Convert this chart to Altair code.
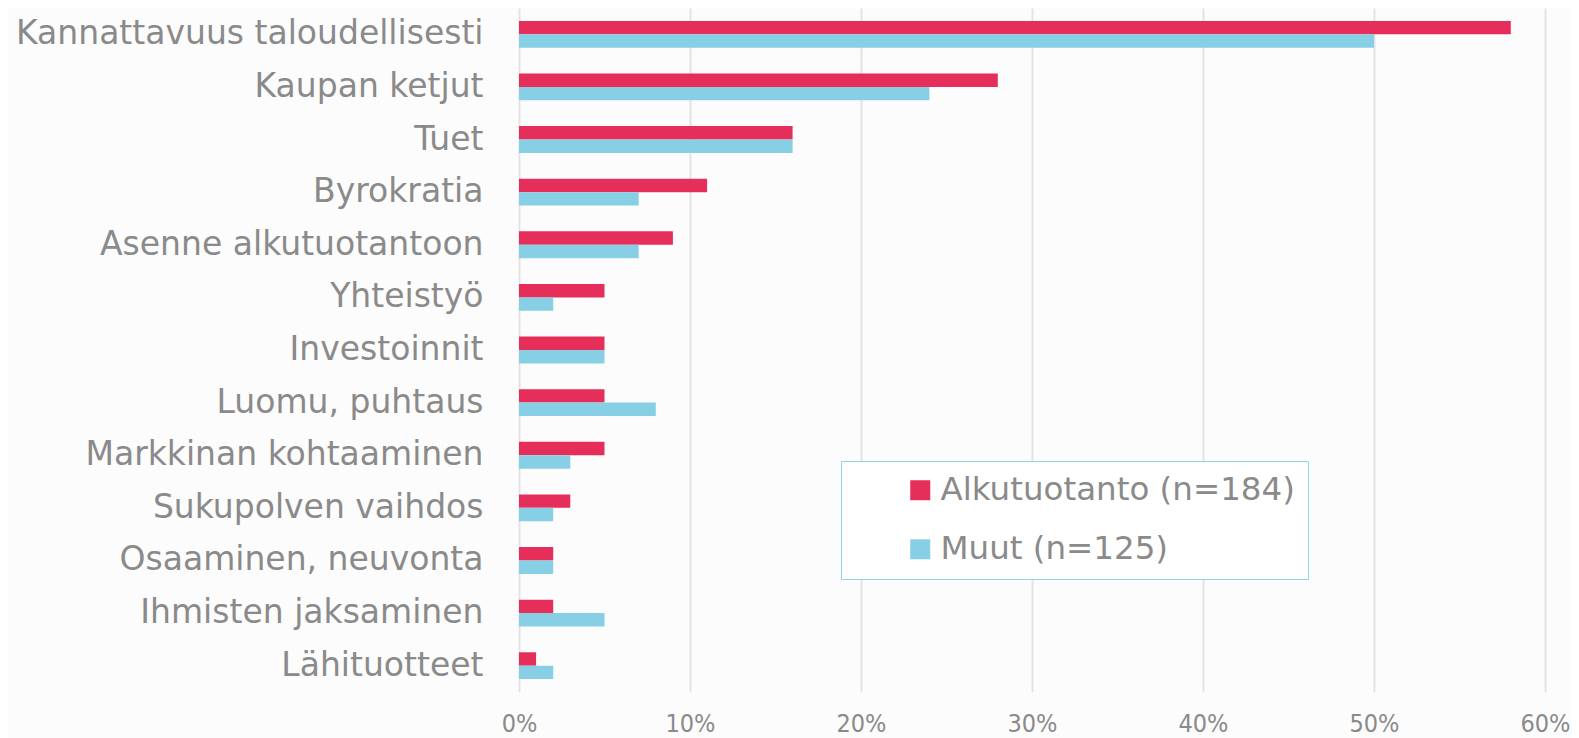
import altair as alt
import pandas as pd

categories = [
    "Kannattavuus taloudellisesti", "Kaupan ketjut", "Tuet", "Byrokratia",
    "Asenne alkutuotantoon", "Yhteistyö", "Investoinnit", "Luomu, puhtaus",
    "Markkinan kohtaaminen", "Sukupolven vaihdos", "Osaaminen, neuvonta",
    "Ihmisten jaksaminen", "Lähituotteet",
]
alkutuotanto = [58, 28, 16, 11, 9, 5, 5, 5, 5, 3, 2, 2, 1]
muut = [50, 24, 16, 7, 7, 2, 5, 8, 3, 2, 2, 5, 2]
series = ["Alkutuotanto (n=184)", "Muut (n=125)"]
colors = ["#E52E5A", "#87CFE5"]
x_ticks = [0, 0.1, 0.2, 0.3, 0.4, 0.5, 0.6]

rows = []
for c, a, m in zip(categories, alkutuotanto, muut):
    rows.append({"cat": c, "series": series[0], "value": a / 100})
    rows.append({"cat": c, "series": series[1], "value": m / 100})
df = pd.DataFrame(rows)

gray = "#8a8a8a"
font = "DejaVu Sans"

chart = alt.Chart(df).mark_bar(stroke=None).encode(
    x=alt.X("value:Q",
            scale=alt.Scale(domain=[0, 0.6], nice=False),
            axis=alt.Axis(values=x_ticks, format=".0%", title=None, grid=True,
                          gridColor="#e3e3e3", gridWidth=2, domain=False, ticks=False,
                          labelFont="DejaVu Sans Condensed, Roboto Condensed, Liberation Sans Narrow, sans-serif",
                          labelFontSize=25, labelFlush=False,
                          labelColor=gray, labelPadding=19)),
    y=alt.Y("cat:N", sort=categories,
            scale=alt.Scale(paddingInner=0.49, paddingOuter=0.245),
            axis=alt.Axis(title=None, domain=False, ticks=False, labelFont=font,
                          labelFontSize=33, labelColor=gray, labelPadding=36,
                          labelLimit=600)),
    yOffset=alt.YOffset("series:N", sort=series),
    color=alt.Color("series:N", sort=series,
                    scale=alt.Scale(domain=series, range=colors),
                    legend=alt.Legend(title=None, orient="none", legendX=322, legendY=453,
                                      fillColor="white", strokeColor="#8fd4e4",
                                      padding=13, symbolType="square", symbolSize=400,
                                      symbolStrokeWidth=0, symbolOffset=50,
                                      labelFont=font, labelFontSize=32.5, labelColor=gray,
                                      labelOffset=4, rowPadding=26, labelLimit=600)),
).properties(
    width=1026, height=684,
    autosize=alt.AutoSizeParams(type="none"),
    padding={"left": 511, "top": 0, "right": 26, "bottom": 46},
    background="#fcfcfc",
).configure_view(stroke=None)

chart.save("out.html", embed_options={"renderer": "svg", "actions": False})
